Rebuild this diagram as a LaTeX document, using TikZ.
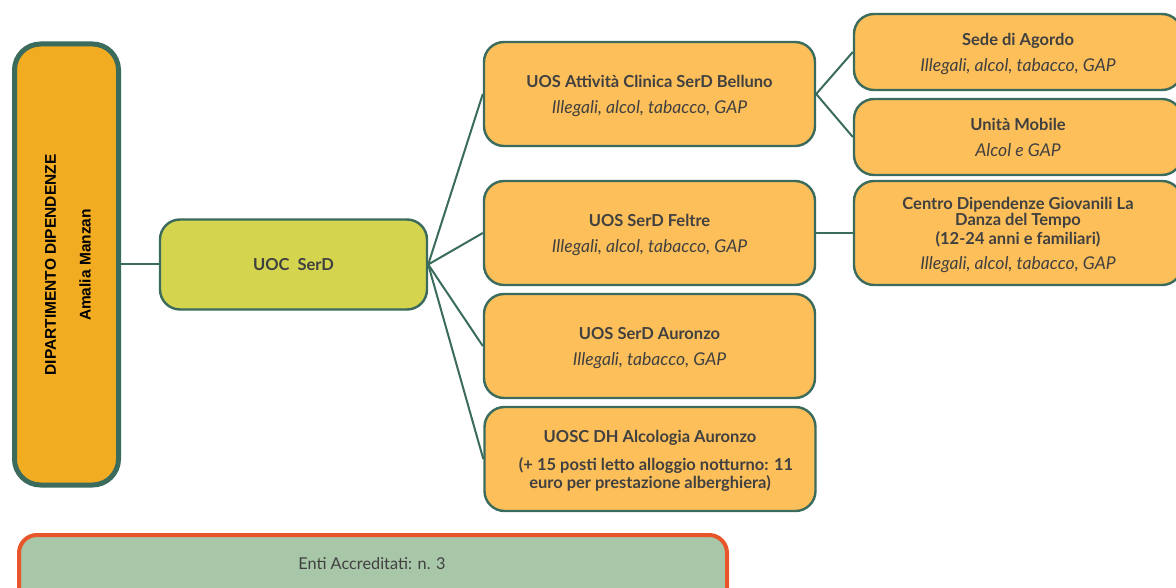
\documentclass[tikz,border=0pt]{standalone}
\usepackage{fontspec}
\setmainfont{Lato}
\newfontfamily\arialfont{Liberation Sans}
\newcommand\detailtext{\fontsize{17.6}{18}\selectfont\mdseries\itshape}
% box label set a little below the box centre, keeping its size
\newcommand\boxlabel[1]{\raisebox{-3pt}[\height][\depth]{\begin{tabular}{@{}c@{}}#1\end{tabular}}}
\begin{document}
\definecolor{edgegreen}{HTML}{3A6B5C}
\definecolor{boxorange}{HTML}{FDBF5A}
\definecolor{deptorange}{HTML}{F2AC22}
\definecolor{uocyellow}{HTML}{D4D44F}
\definecolor{entigreen}{HTML}{A8C6A8}
\definecolor{entiborder}{HTML}{E8552A}
\definecolor{txtgray}{HTML}{404040}
\begin{tikzpicture}[x=1pt,y=-1pt,
  unit/.style={draw=edgegreen, line width=2.4pt, rounded corners=20pt,
    fill=boxorange, text=txtgray, align=center, inner sep=0pt,
    font=\fontsize{16.5}{18}\selectfont\bfseries},
  uos/.style={unit, minimum width=331pt, minimum height=104pt},
  sub/.style={unit, minimum width=328pt},
  link/.style={draw=edgegreen, line width=2pt},
  depttext/.style={rotate=90, font=\arialfont\fontsize{15.5}{18}\selectfont\bfseries, text=black}
]
\clip (0,0) rectangle (1176,588);
\useasboundingbox (0,0) rectangle (1176,588);

% department box
\node[draw=edgegreen, line width=5pt, rounded corners=26pt, fill=deptorange,
  minimum width=104pt, minimum height=441pt] (dept) at (66.5,264.5) {};
\node[depttext] (deptname) at (50.5,265) {DIPARTIMENTO DIPENDENZE};
\node[depttext] (deptlead) at (85,265) {Amalia Manzan};

% UOC
\node[unit, fill=uocyellow, minimum width=267pt, minimum height=90pt] (uoc) at (293.5,264.5) {UOC\ \ SerD};

% UOS column
\node[uos] (belluno) at (649.5,94) {\boxlabel{UOS Attività Clinica SerD Belluno\\[8pt]{\detailtext Illegali, alcol, tabacco, GAP}}};
\node[uos] (feltre) at (649.5,233) {\boxlabel{UOS SerD Feltre\\[8pt]{\detailtext Illegali, alcol, tabacco, GAP}}};
\node[uos] (auronzo) at (649.5,346) {\boxlabel{UOS SerD Auronzo\\[8pt]{\detailtext Illegali, tabacco, GAP}}};
\node[uos] (alcologia) at (650,459) {\boxlabel{UOSC DH Alcologia Auronzo\\[10pt]\hspace{12pt}(+ 15 posti letto alloggio notturno: 11\\euro per prestazione alberghiera)}};

% sub units
\node[sub, minimum height=76pt] (agordo) at (1018,52) {\boxlabel{Sede di Agordo\\[8pt]{\detailtext Illegali, alcol, tabacco, GAP}}};
\node[sub, minimum height=76pt] (mobile) at (1018,137) {\boxlabel{Unità Mobile\\[8pt]{\detailtext Alcol e GAP}}};
\node[sub, minimum height=104pt] (giovani) at (1018,233) {\boxlabel{Centro Dipendenze Giovanili La\\[-2pt]Danza del Tempo\\(12-24 anni e familiari)\\[7pt]{\detailtext Illegali, alcol, tabacco, GAP}}};

% connectors
\draw[link] (dept.east) -- (uoc.west);
\draw[link] (uoc.east) -- (belluno.west);
\draw[link] (uoc.east) -- (feltre.west);
\draw[link] (uoc.east) -- (auronzo.west);
\draw[link] (uoc.east) -- (alcologia.west);
\draw[link] (belluno.east) -- (agordo.west);
\draw[link] (belluno.east) -- (mobile.west);
\draw[link] (feltre.east) -- (giovani.west);

% accredited bodies
\node[draw=entiborder, line width=4pt, rounded corners=18pt, fill=entigreen,
  minimum width=708pt, minimum height=80pt, anchor=north west] (entibox) at (17,533) {};
\node[text=txtgray, font=\fontsize{16.3}{18}\selectfont] (enti) at (372,564) {Enti Accreditati: n. 3};
\end{tikzpicture}
\end{document}
